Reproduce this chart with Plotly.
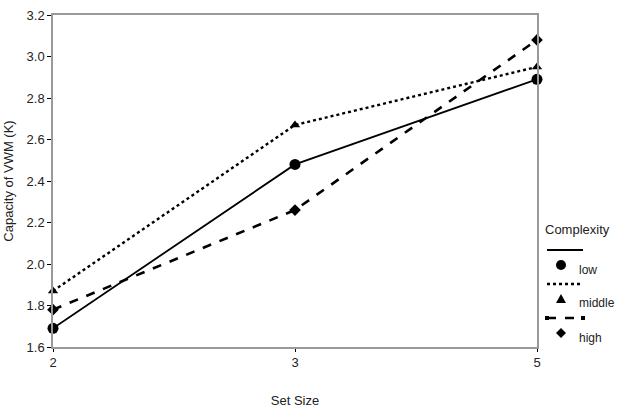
import plotly.graph_objects as go

set_size = ["2", "3", "5"]
low = [1.69, 2.48, 2.89]
middle = [1.87, 2.67, 2.95]
high = [1.78, 2.26, 3.08]
y_ticks = [1.6, 1.8, 2.0, 2.2, 2.4, 2.6, 2.8, 3.0, 3.2]

W, H = 621, 408
L, R, T, B = 53, 84, 15, 61
pw, ph = W - L - R, H - T - B

def px(x):
    return (x - L) / pw

def py(y):
    return (H - B - y) / ph

FONT = "Liberation Sans, Arial, sans-serif"
fig = go.Figure()
series = [
    ("low", low, "solid", 1.8, "circle", 11),
    ("middle", middle, "dot", 2.4, "triangle-up", 9),
    ("high", high, "dash", 2.6, "diamond", 9),
]
for name, vals, dash, lw, sym, ms in series:
    fig.add_trace(go.Scatter(
        x=set_size, y=vals, name=name, mode="lines+markers",
        line=dict(color="black", width=lw, dash=dash),
        marker=dict(symbol=sym, size=ms, color="black"),
        showlegend=False, cliponaxis=False,
    ))

shapes = []
annotations = []
# custom legend
annotations.append(dict(x=px(543), y=py(229), xref="paper", yref="paper", text="Complexity",
                        showarrow=False, xanchor="left", yanchor="middle",
                        font=dict(family=FONT, size=13, color="#222")))
rows = [("low", "solid", 1.8, 250, 265, 270),
        ("middle", "dot", 2.6, 284, 299, 303),
        ("high", "dash", 2.6, 318, 333, 338)]
for name, dash, lw, ly, my, ty in rows:
    shapes.append(dict(type="line", xref="paper", yref="paper",
                       x0=px(547), x1=px(583), y0=py(ly), y1=py(ly),
                       line=dict(color="black", width=lw, dash=dash)))
    annotations.append(dict(x=px(577), y=py(ty), xref="paper", yref="paper", text=name,
                            showarrow=False, xanchor="left", yanchor="middle",
                            font=dict(family=FONT, size=12, color="#222")))
# legend markers
cx = 561
shapes.append(dict(type="circle", xref="paper", yref="paper",
                   x0=px(cx - 5), x1=px(cx + 5), y0=py(265 + 5), y1=py(265 - 5),
                   fillcolor="black", line=dict(color="black", width=0)))
tri = f"M {px(cx-5)} {py(303)} L {px(cx+5)} {py(303)} L {px(cx)} {py(294)} Z"
shapes.append(dict(type="path", xref="paper", yref="paper", path=tri,
                   fillcolor="black", line=dict(color="black", width=0)))
dia = f"M {px(cx)} {py(328)} L {px(cx+5)} {py(333)} L {px(cx)} {py(338)} L {px(cx-5)} {py(333)} Z"
shapes.append(dict(type="path", xref="paper", yref="paper", path=dia,
                   fillcolor="black", line=dict(color="black", width=0)))
for ex in (547, 583):
    shapes.append(dict(type="rect", xref="paper", yref="paper",
                       x0=px(ex - 2), x1=px(ex + 2), y0=py(318 + 2), y1=py(318 - 2),
                       fillcolor="black", line=dict(width=0)))

fig.update_layout(
    width=W, height=H,
    margin=dict(l=L, r=R, t=T, b=B, autoexpand=False),
    paper_bgcolor="white", plot_bgcolor="white",
    font=dict(family=FONT, size=13, color="#222"),
    shapes=shapes, annotations=annotations,
    showlegend=False,
)
fig.update_xaxes(
    type="category", range=[0, 2], showline=True, linecolor="#999", linewidth=1.5,
    mirror=True, ticks="outside", ticklen=3, tickcolor="black", showgrid=False,
    title=dict(text="Set Size", standoff=33, font=dict(size=13)),
    tickfont=dict(size=13), zeroline=False, automargin=False,
)
fig.update_yaxes(
    range=[1.6, 3.2], tickvals=y_ticks, ticktext=[f"{v:.1f}" for v in y_ticks],
    showline=True, linecolor="#999", linewidth=1.5, mirror=True,
    ticks="outside", ticklen=4, tickcolor="black", showgrid=False, zeroline=False,
    title=dict(text="Capacity of VWM (K)", standoff=10, font=dict(size=13)),
    tickfont=dict(size=13), automargin=False,
)
fig.write_html("out.html")
